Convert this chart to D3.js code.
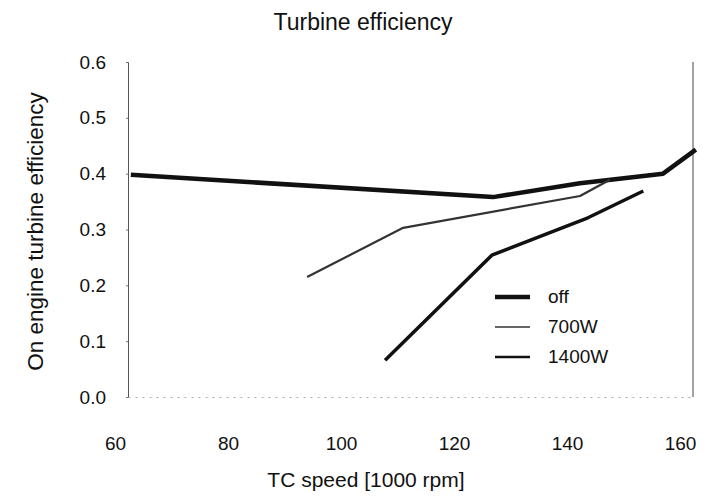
<!DOCTYPE html>
<html>
<head>
<meta charset="utf-8">
<script src="https://cdn.jsdelivr.net/npm/d3@7/dist/d3.min.js"></script>
<style>
  body { margin: 0; background: #fff; }
  #chart { width: 703px; height: 497px; }
  text { font-family: "Liberation Sans", Arial, sans-serif; fill: #111; }
</style>
</head>
<body>
<div id="chart"></div>
<script>
// series
const offX = [60.5, 124.6, 140, 154.7, 160.5];
const offY = [0.398, 0.358, 0.383, 0.400, 0.443];
const w700X = [91.7, 108.7, 140, 145.3];
const w700Y = [0.215, 0.303, 0.360, 0.389];
const w1400X = [105.5, 124.4, 141.4, 151.2];
const w1400Y = [0.066, 0.254, 0.321, 0.369];
const seriesNames = ["off", "700W", "1400W"];
const xTicks = [60, 80, 100, 120, 140, 160];
const yTicks = [0, 0.1, 0.2, 0.3, 0.4, 0.5, 0.6];

const container = d3.select("#chart");
const width = 703, height = 497;
const svg = container.append("svg").attr("width", width).attr("height", height);

const margin = { left: 128, right: 10, top: 62, bottom: 100 };
const xScale = d3.scaleLinear().domain([60, 160]).range([margin.left, width - margin.right]);
const yScale = d3.scaleLinear().domain([0, 0.6]).range([height - margin.bottom, margin.top]);

// title
svg.append("text")
  .attr("x", 363).attr("y", 30)
  .attr("text-anchor", "middle")
  .attr("font-size", 23)
  .text("Turbine efficiency");

// y axis
const yAxis = svg.append("g")
  .attr("transform", `translate(${margin.left},0)`)
  .call(d3.axisLeft(yScale).tickValues(yTicks).tickFormat(d3.format(".1f")).tickSize(2).tickPadding(20));
yAxis.select(".domain").attr("stroke", "#555");
yAxis.selectAll(".tick line").attr("stroke", "#777");
yAxis.selectAll(".tick text").attr("font-size", 19).attr("font-family", "Liberation Sans, Arial, sans-serif");

// x axis (faint dotted line, labels a bit left of the ticks as in the scan)
const xAxis = svg.append("g")
  .attr("transform", `translate(0,${height - margin.bottom})`)
  .call(d3.axisBottom(xScale).tickValues(xTicks).tickSize(0).tickPadding(40));
xAxis.select(".domain").attr("stroke", "#aaa").attr("stroke-dasharray", "2,5");
xAxis.selectAll(".tick text")
  .attr("font-size", 19)
  .attr("font-family", "Liberation Sans, Arial, sans-serif")
  .attr("dx", -13);

// right border
svg.append("line")
  .attr("x1", xScale(160)).attr("x2", xScale(160))
  .attr("y1", yScale(0.6)).attr("y2", yScale(0))
  .attr("stroke", "#444").attr("stroke-width", 1);

// axis titles
svg.append("text")
  .attr("transform", `translate(43,${(yScale(0) + yScale(0.6)) / 2 + 2}) rotate(-90)`)
  .attr("text-anchor", "middle")
  .attr("font-size", 22.5)
  .text("On engine turbine efficiency");

svg.append("text")
  .attr("x", 366).attr("y", 487)
  .attr("text-anchor", "middle")
  .attr("font-size", 21)
  .text("TC speed [1000 rpm]");

// lines
const line = d3.line().x(d => xScale(d[0])).y(d => yScale(d[1]));
const series = [
  { name: seriesNames[0], pts: d3.zip(offX, offY), width: 4.5, color: "#111" },
  { name: seriesNames[1], pts: d3.zip(w700X, w700Y), width: 2.2, color: "#333" },
  { name: seriesNames[2], pts: d3.zip(w1400X, w1400Y), width: 3.5, color: "#111" }
];
svg.append("g")
  .selectAll("path")
  .data(series)
  .enter()
  .append("path")
  .attr("d", d => line(d.pts))
  .attr("fill", "none")
  .attr("stroke", d => d.color)
  .attr("stroke-width", d => d.width)
  .attr("stroke-linejoin", "round");

// legend
const legend = svg.append("g").attr("transform", "translate(495,297)");
const legendRows = legend.selectAll("g")
  .data(series)
  .enter()
  .append("g")
  .attr("transform", (d, i) => `translate(0,${i * 30})`);
legendRows.append("line")
  .attr("x1", 0).attr("x2", 35)
  .attr("stroke", d => d.color)
  .attr("stroke-width", (d, i) => [4.5, 1.5, 2.5][i]);
legendRows.append("text")
  .attr("x", 53).attr("y", 0).attr("dy", "0.3em")
  .attr("font-size", 19)
  .text(d => d.name);
</script>
</body>
</html>
